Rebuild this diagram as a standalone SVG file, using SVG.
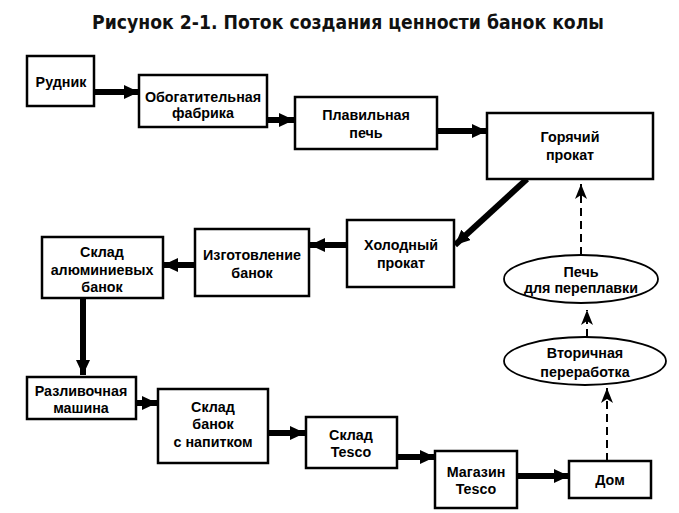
<svg xmlns="http://www.w3.org/2000/svg" width="679" height="513" viewBox="0 0 679 513">
<defs>
<style>
.box{fill:#fff;stroke:#000;stroke-width:2.5}
.t{font-family:"Liberation Sans",Arial,sans-serif;font-weight:bold;font-size:14.3px;text-anchor:middle;fill:#000}
.title{font-family:"DejaVu Sans Condensed","DejaVu Sans",sans-serif;font-stretch:condensed;font-weight:bold;font-size:19px;text-anchor:middle;fill:#111}
.thick{stroke:#000;stroke-width:6;fill:none}
.dash{stroke:#000;stroke-width:2;stroke-dasharray:8 5;fill:none}
</style>
<marker id="ah" markerUnits="userSpaceOnUse" markerWidth="16" markerHeight="14" refX="15" refY="7" orient="auto">
<path d="M0,0 L15,7 L0,14 Z" fill="#000"/>
</marker>
<marker id="ahd" markerUnits="userSpaceOnUse" markerWidth="16" markerHeight="12" refX="15" refY="6" orient="auto">
<path d="M0,0 L15,6 L0,12 L4,6 Z" fill="#000"/>
</marker>
</defs>
<rect width="679" height="513" fill="#fff"/>
<text class="title" x="348" y="29" textLength="512" lengthAdjust="spacingAndGlyphs">Рисунок 2-1. Поток создания ценности банок колы</text>

<g id="connectors">
<line class="thick" x1="94" y1="92" x2="139" y2="92" marker-end="url(#ah)"/>
<line class="thick" x1="268" y1="120" x2="294" y2="120" marker-end="url(#ah)"/>
<line class="thick" x1="438" y1="131" x2="487" y2="131" marker-end="url(#ah)"/>
<line class="thick" x1="527" y1="179" x2="455" y2="245" marker-end="url(#ah)"/>
<line class="thick" x1="347" y1="245" x2="310" y2="245" marker-end="url(#ah)"/>
<line class="thick" x1="195" y1="265" x2="163" y2="265" marker-end="url(#ah)"/>
<line class="thick" x1="83" y1="299" x2="83" y2="375" marker-end="url(#ah)"/>
<line class="thick" x1="136" y1="403" x2="157" y2="403" marker-end="url(#ah)"/>
<line class="thick" x1="268" y1="433" x2="305" y2="433" marker-end="url(#ah)"/>
<line class="thick" x1="397" y1="457" x2="435" y2="457" marker-end="url(#ah)"/>
<line class="thick" x1="517" y1="476" x2="569" y2="476" marker-end="url(#ah)"/>
<line class="dash" x1="607" y1="461" x2="607" y2="388" marker-end="url(#ahd)"/>
<line class="dash" x1="587" y1="337" x2="587" y2="310" marker-end="url(#ahd)"/>
<line class="dash" x1="581" y1="255" x2="581" y2="184" marker-end="url(#ahd)"/>
</g>

<g id="n-rudnik"><rect class="box" x="27" y="56" width="67" height="50"/><text class="t" x="61" y="87">Рудник</text></g>
<g id="n-obog"><rect class="box" x="139" y="75" width="128" height="52"/><text class="t" x="203" y="102">Обогатительная</text><text class="t" x="203" y="118">фабрика</text></g>
<g id="n-plav"><rect class="box" x="295" y="97" width="142" height="52"/><text class="t" x="366" y="120">Плавильная</text><text class="t" x="366" y="138">печь</text></g>
<g id="n-gor"><rect class="box" x="487" y="113" width="166" height="66"/><text class="t" x="570" y="142">Горячий</text><text class="t" x="570" y="160">прокат</text></g>
<g id="n-hol"><rect class="box" x="347" y="220" width="107" height="67"/><text class="t" x="401" y="250">Холодный</text><text class="t" x="401" y="268">прокат</text></g>
<g id="n-izg"><rect class="box" x="195" y="229" width="114" height="67"/><text class="t" x="252" y="260">Изготовление</text><text class="t" x="252" y="278">банок</text></g>
<g id="n-sklad-al"><rect class="box" x="42" y="237" width="121" height="61"/><text class="t" x="102" y="257">Склад</text><text class="t" x="102" y="275">алюминиевых</text><text class="t" x="102" y="292">банок</text></g>
<g id="n-razl"><rect class="box" x="27" y="377" width="109" height="42"/><text class="t" x="81" y="396">Разливочная</text><text class="t" x="81" y="413">машина</text></g>
<g id="n-sklad-nap"><rect class="box" x="158" y="389" width="110" height="74"/><text class="t" x="213" y="412">Склад</text><text class="t" x="213" y="429">банок</text><text class="t" x="213" y="447">с напитком</text></g>
<g id="n-sklad-tesco"><rect class="box" x="306" y="417" width="91" height="51"/><text class="t" x="351" y="440">Склад</text><text class="t" x="351" y="457">Tesco</text></g>
<g id="n-mag"><rect class="box" x="435" y="451" width="82" height="57"/><text class="t" x="476" y="477">Магазин</text><text class="t" x="476" y="494">Tesco</text></g>
<g id="n-dom"><rect class="box" x="569" y="461" width="82" height="37"/><text class="t" x="610" y="485">Дом</text></g>
<g id="n-pech"><ellipse class="box" cx="581" cy="279" rx="77" ry="24" style="stroke-width:1.8"/><text class="t" x="581" y="277">Печь</text><text class="t" x="581" y="293">для переплавки</text></g>
<g id="n-vtor"><ellipse class="box" cx="585" cy="361" rx="81" ry="24" style="stroke-width:1.8"/><text class="t" x="585" y="358">Вторичная</text><text class="t" x="585" y="377">переработка</text></g>
</svg>
